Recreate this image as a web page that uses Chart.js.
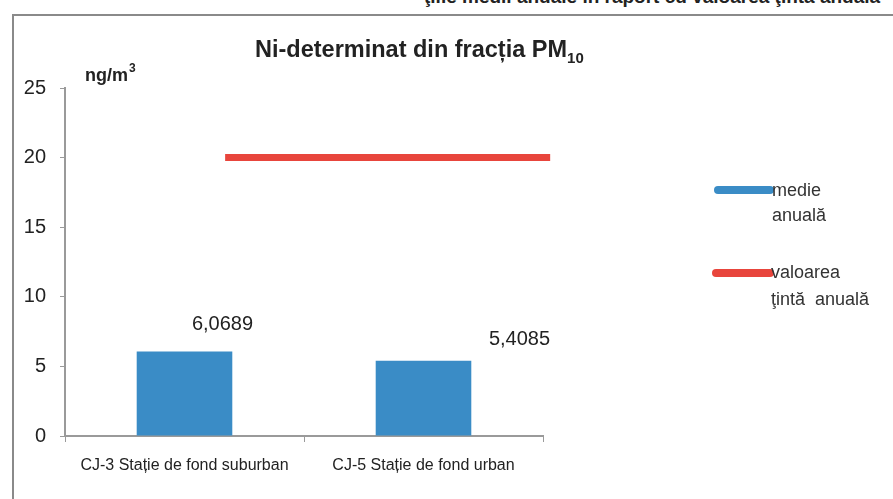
<!DOCTYPE html>
<html>
<head>
<meta charset="utf-8">
<script src="https://cdn.jsdelivr.net/npm/chart.js@4/dist/chart.umd.min.js"></script>
<style>
  html, body { margin: 0; padding: 0; background: #fff; overflow: hidden; }
  #wrap { position: relative; width: 893px; height: 499px; }
  #frame { position: absolute; left: 12px; top: 14px; right: -4px; bottom: -4px;
           border-left: 2px solid #8a8a8a; border-top: 2px solid #8a8a8a; }
  #head { position: absolute; left: 424px; top: -14px; white-space: nowrap;
          font: bold 19px "Liberation Sans", Arial, sans-serif; color: #222; }
  canvas { position: absolute; left: 0; top: 0; }
</style>
</head>
<body>
<div id="wrap">
  <div id="head">ţiile medii anuale în raport cu valoarea ţintă anuală</div>
  <div id="frame"></div>
  <canvas id="chart" width="893" height="499"></canvas>
</div>
<script>
const stations = ["CJ-3 Stație de fond suburban", "CJ-5 Stație de fond urban"];
const meanValues = [6.0689, 5.4085];
const meanLabels = ["6,0689", "5,4085"];
const targetValue = 20;
const targetSpan = [0.67, 2.03];
const yTicks = [0, 5, 10, 15, 20, 25];

const blue = "#3a8cc6";
const red = "#e8453c";

const extras = {
  id: "extras",
  afterDatasetsDraw(chart) {
    const ctx = chart.ctx;
    const meta = chart.getDatasetMeta(0);
    ctx.save();
    ctx.fillStyle = "#222";
    ctx.textAlign = "center";
    ctx.textBaseline = "middle";
    ctx.font = "20px 'Liberation Sans', Arial, sans-serif";
    const shift = [38, 96];
    const lift = [27, 21];
    meta.data.forEach((bar, i) => {
      ctx.fillText(meanLabels[i], bar.x + shift[i], bar.y - lift[i]);
    });

    // title
    ctx.font = "bold 23.5px 'Liberation Sans', Arial, sans-serif";
    ctx.textAlign = "left";
    const t = "Ni-determinat din fracția PM";
    const tw = ctx.measureText(t).width;
    const tx = 255;
    ctx.fillText(t, tx, 51);
    ctx.font = "bold 15px 'Liberation Sans', Arial, sans-serif";
    ctx.fillText("10", tx + tw, 59);

    // unit
    ctx.font = "bold 18px 'Liberation Sans', Arial, sans-serif";
    ctx.fillText("ng/m", 85, 76);
    const uw = ctx.measureText("ng/m").width;
    ctx.font = "bold 12px 'Liberation Sans', Arial, sans-serif";
    ctx.fillText("3", 85 + uw + 1, 69);

    // legend
    ctx.lineCap = "round";
    ctx.lineWidth = 8;
    ctx.strokeStyle = blue;
    ctx.beginPath(); ctx.moveTo(718, 190); ctx.lineTo(770, 190); ctx.stroke();
    ctx.strokeStyle = red;
    ctx.beginPath(); ctx.moveTo(716, 273); ctx.lineTo(770, 273); ctx.stroke();
    ctx.fillStyle = "#333";
    ctx.font = "18px 'Liberation Sans', Arial, sans-serif";
    ctx.fillText("medie", 772, 191);
    ctx.fillText("anuală", 772, 216);
    ctx.fillText("valoarea", 771, 273);
    ctx.fillText("ţintă  anuală", 771, 300);
    ctx.restore();
  }
};

new Chart(document.getElementById("chart"), {
  type: "bar",
  data: {
    labels: stations,
    datasets: [
      {
        label: "medie anuală",
        data: meanValues,
        backgroundColor: blue,
        grouped: false,
        categoryPercentage: 1,
        barPercentage: 0.4,
        order: 2
      },
      {
        type: "line",
        label: "valoarea ţintă anuală",
        data: targetSpan.map(x => ({x: x, y: targetValue})),
        xAxisID: "x2",
        borderColor: red,
        borderWidth: 7,
        pointRadius: 0,
        clip: false,
        order: 1
      }
    ]
  },
  plugins: [extras],
  options: {
    responsive: false,
    animation: false,
    events: [],
    layout: { padding: { left: 0, right: 350, top: 88, bottom: 0 } },
    plugins: { legend: { display: false }, tooltip: { enabled: false } },
    scales: {
      x: {
        offset: true,
        afterFit: s => { s.height = 63; s.paddingLeft = 0; s.paddingRight = 0; },
        border: { color: "#9a9a9a", width: 2 },
        grid: { offset: true, drawOnChartArea: false, tickLength: 6, color: "#9a9a9a" },
        ticks: {
          color: "#222",
          padding: 14,
          maxRotation: 0,
          minRotation: 0,
          autoSkip: false,
          font: { family: "'Liberation Sans', Arial, sans-serif", size: 16 }
        }
      },
      x2: { type: "linear", display: false, offset: false, min: 0, max: 2 },
      y: {
        min: 0,
        max: 25,
        afterFit: s => { s.width = 65; s.paddingTop = 0; s.paddingBottom = 0; },
        afterBuildTicks: s => { s.ticks = yTicks.map(v => ({value: v})); },
        border: { color: "#9a9a9a", width: 2 },
        grid: { drawOnChartArea: false, tickLength: 5, color: "#9a9a9a" },
        ticks: {
          color: "#222",
          padding: 14,
          font: { family: "'Liberation Sans', Arial, sans-serif", size: 20 }
        }
      }
    }
  }
});
</script>
</body>
</html>
